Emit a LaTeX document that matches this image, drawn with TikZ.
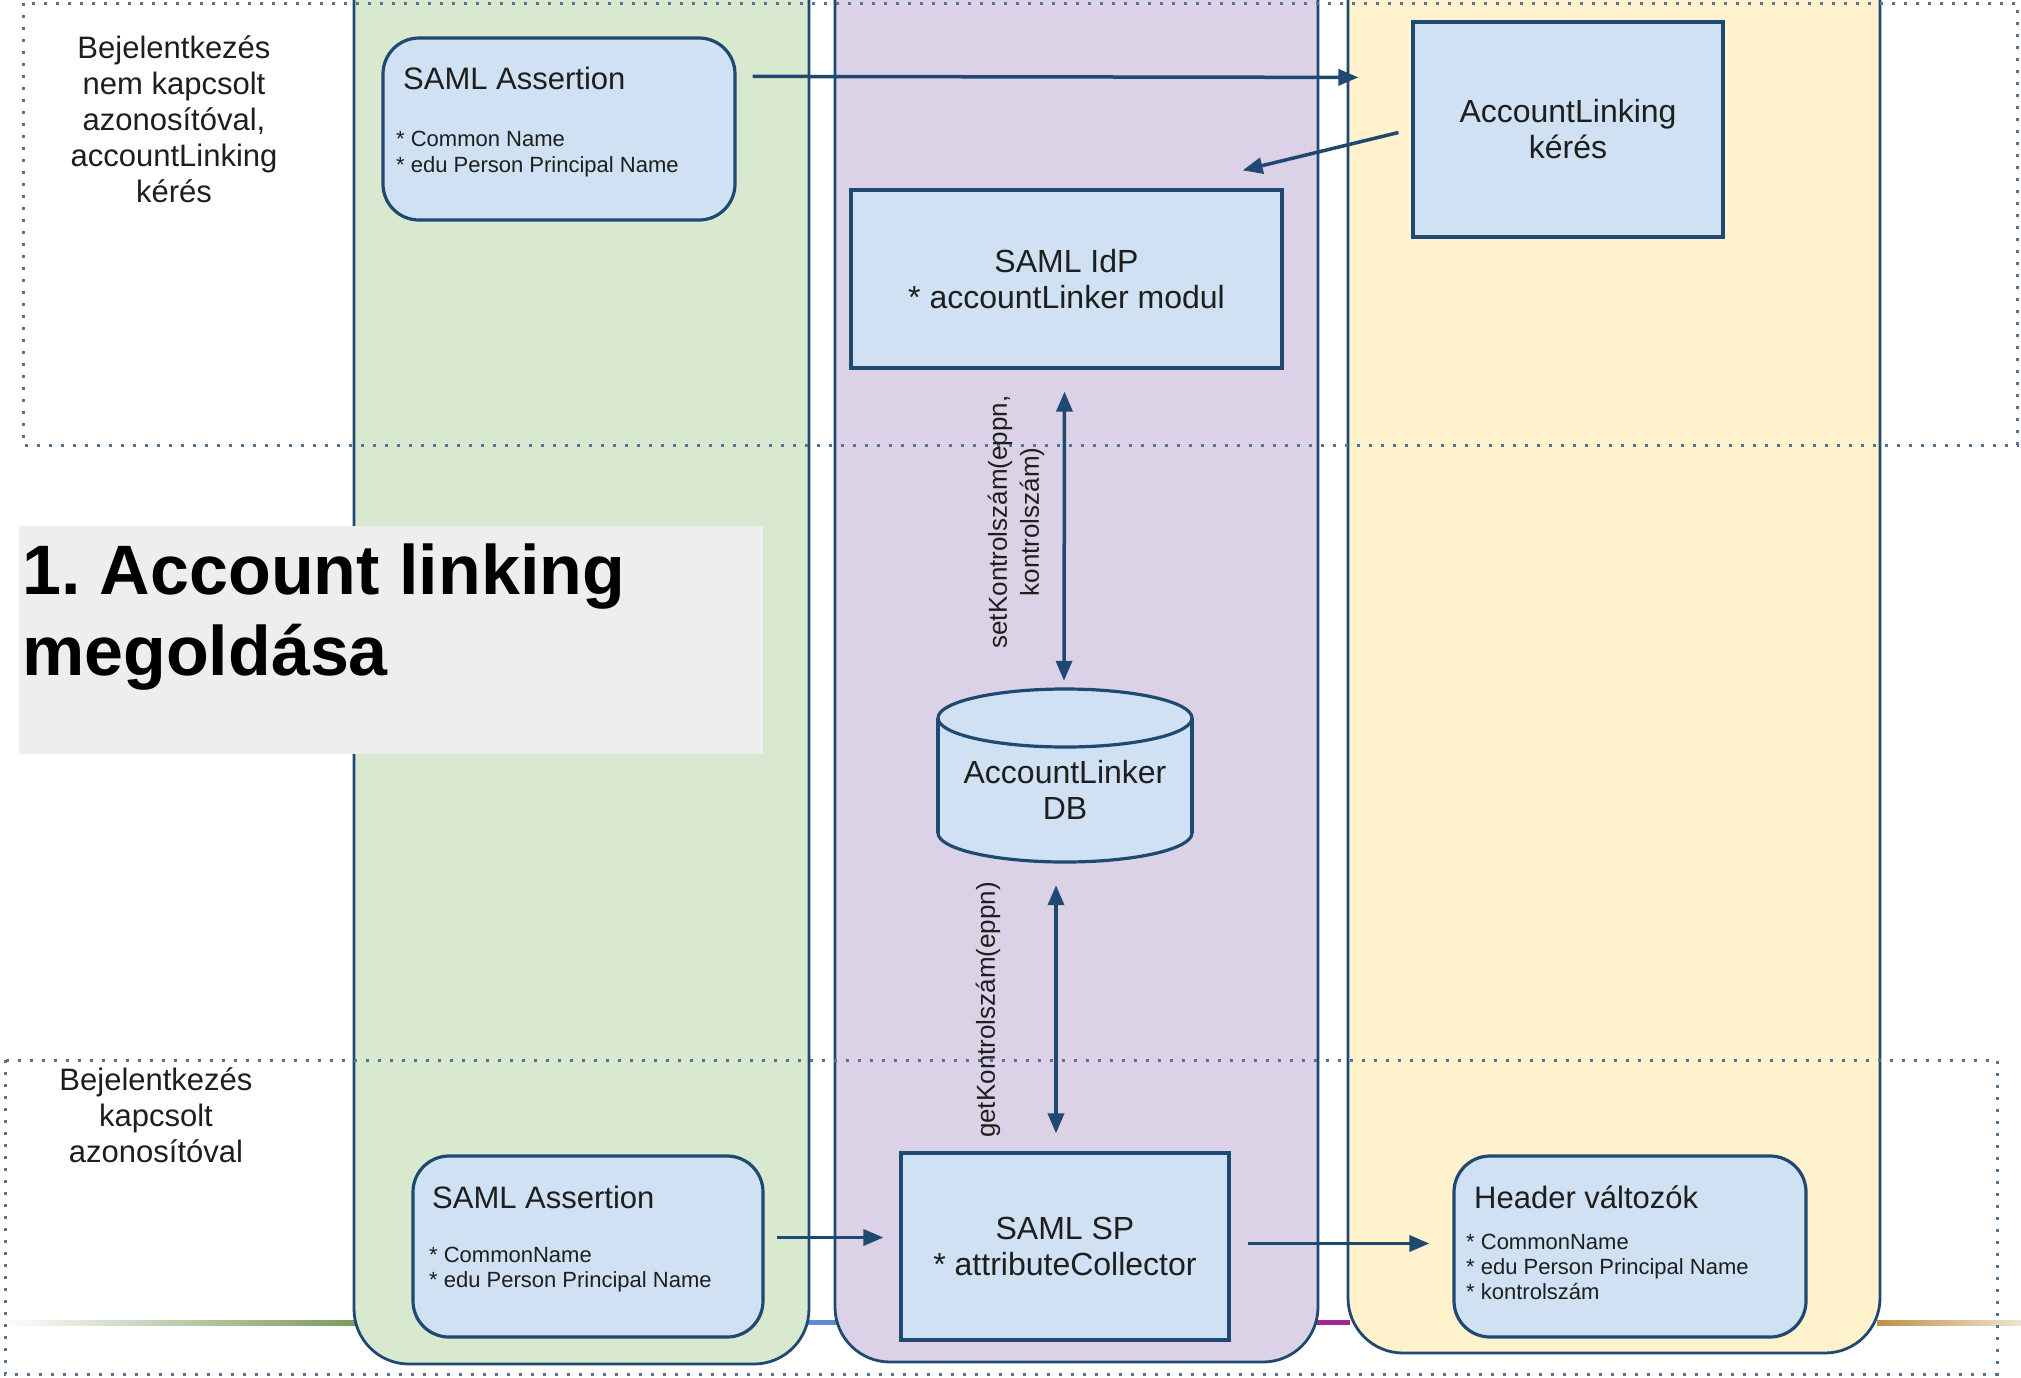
\documentclass[tikz,border=0pt]{standalone}
\usepackage{fontspec}
\setmainfont{Liberation Sans}
\usetikzlibrary{arrows.meta,calc}
\frenchspacing
\definecolor{lanebd}{RGB}{31,73,112}
\definecolor{boxfill}{RGB}{207,225,242}
\definecolor{laneG}{RGB}{217,233,208}
\definecolor{laneP}{RGB}{219,210,232}
\definecolor{laneY}{RGB}{255,242,204}
\definecolor{titlebg}{RGB}{238,238,238}
\definecolor{dotc}{RGB}{85,115,150}
\definecolor{txt}{RGB}{30,30,30}
\definecolor{stripeG}{RGB}{120,155,90}
\definecolor{stripeB}{RGB}{95,140,205}
\definecolor{stripeM}{RGB}{160,40,150}
\definecolor{stripeO}{RGB}{190,145,70}
\begin{document}
\begin{tikzpicture}[x=1pt,y=-1pt,
  lane/.style={draw=lanebd, line width=2.8pt, rounded corners=55pt},
  box/.style={draw=lanebd, fill=boxfill, line width=3.2pt, inner sep=0pt},
  rbox/.style={box, rounded corners=36pt},
  arr/.style={draw=lanebd, line width=3.5pt, -{Triangle[length=20pt,width=16pt]}},
  darr/.style={draw=lanebd, line width=3.5pt, {Triangle[length=20pt,width=16pt]}-{Triangle[length=20pt,width=16pt]}},
  dotline/.style={draw=dotc, line width=3pt, dash pattern=on 3pt off 9pt},
  lbl/.style={text=txt, font=\fontsize{32}{36}\selectfont, align=center, inner sep=0pt},
  ttl/.style={text=txt, font=\fontsize{31}{36}\selectfont, inner sep=0pt, anchor=base west},
  small/.style={text=txt, font=\fontsize{22}{25}\selectfont, align=left, inner sep=0pt, anchor=north west},
  rot/.style={text=txt, font=\fontsize{26}{32}\selectfont, align=center, inner sep=0pt, rotate=90}]
\useasboundingbox (0,0) rectangle (2021,1377);
\fill[white] (0,0) rectangle (2021,1377);
\begin{scope}
\clip (0,0) rectangle (2021,1377);
% coloured stripe behind the lanes
\shade[left color=white, right color=stripeG] (0,1320) rectangle (356,1325);
\fill[stripeB] (805,1320) rectangle (838,1325);
\fill[stripeM] (1314,1320) rectangle (1350,1325);
\shade[left color=stripeO, right color=stripeO!25] (1877,1320) rectangle (2021,1325);
% lanes
\draw[lane, fill=laneG] (354,-80) rectangle (809,1364);
\draw[lane, fill=laneP] (835,-80) rectangle (1318,1362);
\draw[lane, fill=laneY] (1348,-80) rectangle (1880,1353);
% dotted regions
\draw[dotline] (23,3) rectangle (2017,445);
\draw[dotline] (5,1060) rectangle (1997,1374);
\end{scope}

% region labels
\node[lbl, font=\fontsize{31}{36}\selectfont] (lab1) at (174,119) {Bejelentkezés\\nem kapcsolt\\azonosítóval,\\accountLinking\\kérés};
\node[lbl, font=\fontsize{31}{36}\selectfont] (lab2) at (156,1115) {Bejelentkezés\\kapcsolt\\azonosítóval};

% title
\node[fill=titlebg, minimum width=744pt, minimum height=228pt, inner sep=0pt] (tbox) at (391,640) {};
\node[anchor=north west, align=left, inner sep=0pt, text=black,
      font=\fontsize{70}{81}\selectfont\bfseries] (title) at (22,544) {1. Account linking\\megoldása};

% top SAML assertion
\node[rbox, minimum width=352pt, minimum height=182pt] (sa1) at (559,129) {};
\node[ttl] (sa1t) at (403,89) {SAML Assertion};
\node[small, font=\fontsize{22}{26}\selectfont] (sa1b) at (396,131) {* Common Name\\* edu Person Principal Name};

% AccountLinking request
\node[box, lbl, minimum width=310pt, minimum height=215pt] (alk) at (1568,129.5) {AccountLinking\\kérés};

% IdP
\node[box, lbl, minimum width=431pt, minimum height=178pt] (idp) at (1066.5,279) {SAML IdP\\* accountLinker modul};

% DB cylinder
\node[minimum width=255pt, minimum height=173pt, inner sep=0pt] (db) at (1065,775.5) {};
\fill[boxfill] (1065,833) ellipse[x radius=127pt, y radius=29pt];
\fill[boxfill] (938,718) rectangle (1192,833);
\draw[lanebd, line width=3.2pt] (938,718) -- (938,833) (1192,718) -- (1192,833);
\begin{scope}
\clip (900,833) rectangle (1230,880);
\draw[lanebd, line width=3.2pt] (1065,833) ellipse[x radius=127pt, y radius=29pt];
\end{scope}
\draw[lanebd, line width=3.2pt, fill=boxfill] (1065,718) ellipse[x radius=127pt, y radius=29pt];
\node[lbl] (dbt) at (1065,790) {AccountLinker\\DB};

% SP
\node[box, lbl, minimum width=328pt, minimum height=187pt] (sp) at (1065,1246.5) {SAML SP\\* attributeCollector};

% bottom SAML assertion
\node[rbox, minimum width=350pt, minimum height=181pt] (sa2) at (588,1246.5) {};
\node[ttl] (sa2t) at (432,1208) {SAML Assertion};
\node[small] (sa2b) at (429,1247) {* CommonName\\* edu Person Principal Name};

% header variables
\node[rbox, minimum width=352pt, minimum height=181pt] (hdr) at (1630,1246.5) {};
\node[ttl] (hdrt) at (1474,1208) {Header változók};
\node[small] (hdrb) at (1466,1234) {* CommonName\\* edu Person Principal Name\\* kontrolszám};

% connectors
\draw[arr] ($(sa1.north east)+(16,40)$) -- ($(alk.north west)+(-53,57)$);
\draw[arr] ($(alk.west)+(-13,3)$) -- ($(idp.north east)+(-41,-18)$);
\draw[darr] ($(idp.south)+(-2,22)$) -- ($(db.north)+(-1,-8)$);
\draw[darr] ($(db.south)+(-9,23)$) -- ($(sp.north)+(-9,-18)$);
\draw[arr] ($(sa2.east)+(12,-9)$) -- ($(sp.west)+(-16,-9)$);
\draw[arr] ($(sp.east)+(17,-3)$) -- ($(hdr.west)+(-23,-3)$);

% connector labels
\node[rot] (setl) at (1016,522) {setKontrolszám(eppn,\\kontrolszám)};
\node[rot] (getl) at (988,1010) {getKontrolszám(eppn)};
\end{tikzpicture}
\end{document}
